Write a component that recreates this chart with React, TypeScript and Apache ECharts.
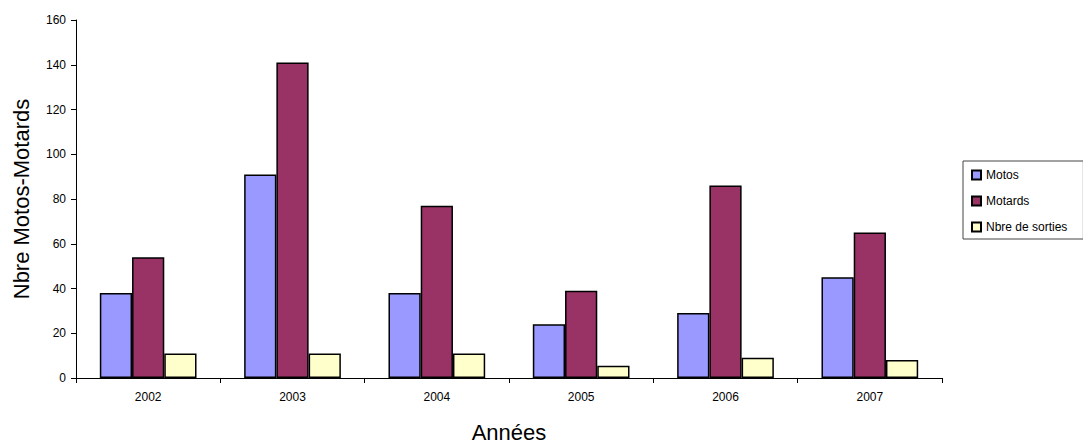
import React, { useEffect, useRef } from "react";
import * as echarts from "echarts";

const categories = ["2002", "2003", "2004", "2005", "2006", "2007"];
const motos = [38, 91, 38, 24, 29, 45];
const motards = [54, 141, 77, 39, 86, 65];
const sorties = [11, 11, 11, 5.5, 9, 8];
const yTicks = { min: 0, max: 160, interval: 20 };

export default function App() {
  const ref = useRef<HTMLDivElement>(null);
  useEffect(() => {
    const chart = echarts.init(ref.current!, null, { renderer: "svg" });
    const font = "Liberation Sans, Arial, sans-serif";
    const barStyle = (color: string) => ({
      color,
      borderColor: "#000",
      borderWidth: 1.5,
    });
    chart.setOption({
      animation: false,
      backgroundColor: "#fff",
      textStyle: { fontFamily: font },
      grid: {
        left: 76,
        right: 141,
        top: 20,
        bottom: 65,
        containLabel: false,
        outerBoundsMode: "none",
      },
      legend: {
        orient: "vertical",
        left: 963,
        top: 161,
        borderColor: "#444",
        borderWidth: 1,
        padding: [8, 16, 6, 8],
        itemWidth: 9,
        itemHeight: 9,
        itemGap: 14,
        icon: "rect",
        textStyle: { fontFamily: font, fontSize: 12, color: "#000", lineHeight: 12 },
        data: ["Motos", "Motards", "Nbre de sorties"],
      },
      xAxis: {
        type: "category",
        data: categories,
        name: "Années",
        nameLocation: "middle",
        nameGap: 43,
        nameTextStyle: { fontFamily: font, fontSize: 22, color: "#000" },
        axisLine: { lineStyle: { color: "#000", width: 1 } },
        axisTick: { show: true, length: 5, lineStyle: { color: "#000" } },
        axisLabel: { color: "#000", fontSize: 12, margin: 13, fontFamily: font },
      },
      yAxis: {
        type: "value",
        min: yTicks.min,
        max: yTicks.max,
        interval: yTicks.interval,
        name: "Nbre Motos-Motards",
        nameLocation: "middle",
        nameGap: 44,
        nameTextStyle: { fontFamily: font, fontSize: 22, color: "#000" },
        axisLine: { show: true, lineStyle: { color: "#000", width: 1 } },
        axisTick: { show: true, length: 5, lineStyle: { color: "#000" } },
        axisLabel: { color: "#000", fontSize: 12, margin: 10, fontFamily: font },
        splitLine: { show: false },
      },
      series: [
        {
          name: "Motos",
          type: "bar",
          data: motos,
          barGap: "0%",
          barCategoryGap: "33%",
          itemStyle: barStyle("#9999FF"),
        },
        {
          name: "Motards",
          type: "bar",
          data: motards,
          barGap: "0%",
          barCategoryGap: "33%",
          itemStyle: barStyle("#993366"),
        },
        {
          name: "Nbre de sorties",
          type: "bar",
          data: sorties,
          barGap: "0%",
          barCategoryGap: "33%",
          itemStyle: barStyle("#FFFFCC"),
        },
      ],
    });
    return () => chart.dispose();
  }, []);
  return (
    <div
      ref={ref}
      style={{ position: "absolute", left: 0, top: 0, width: 1083, height: 443 }}
    />
  );
}
